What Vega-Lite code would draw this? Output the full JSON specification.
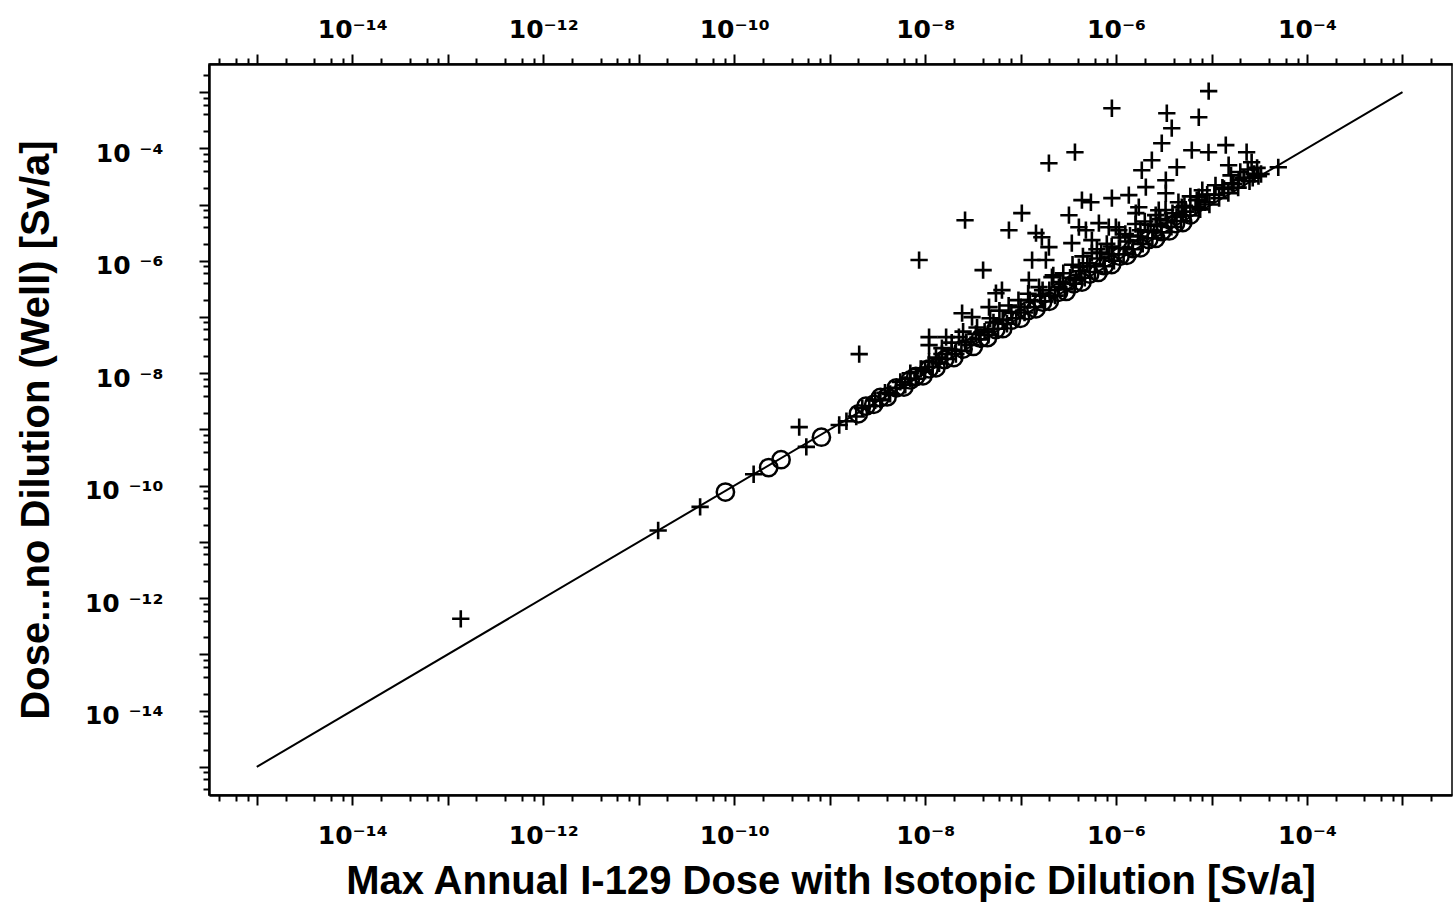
{
  "$schema": "https://vega.github.io/schema/vega-lite/v6.json",
  "autosize": {"type": "none"},
  "width": 1243,
  "height": 731,
  "padding": {"left": 209, "top": 64, "right": 2, "bottom": 113},
  "background": "white",
  "config": {
    "view": {"stroke": "black", "strokeWidth": 1.5},
    "font": "Liberation Sans"
  },
  "datasets": {
    "diag": [{"x": 1e-15, "y": 1e-15}, {"x": 1e-3, "y": 1e-3}],
    "plus": [
      {"x": 1.37e-13, "y": 4.3e-13}, {"x": 1.6e-11, "y": 1.6e-11}, {"x": 4.4e-11, "y": 4.2e-11}, {"x": 1.6e-10, "y": 1.6e-10},
      {"x": 4.8e-10, "y": 1.1e-9}, {"x": 5.7e-10, "y": 4.9e-10}, {"x": 1.26e-9, "y": 1.2e-9}, {"x": 1.5e-9, "y": 1.4e-9},
      {"x": 1.9e-9, "y": 1.7e-9}, {"x": 2.04e-9, "y": 2.19e-8}, {"x": 8.65e-9, "y": 1.03e-6}, {"x": 2.62e-8, "y": 5.27e-6},
      {"x": 4.05e-8, "y": 6.81e-7}, {"x": 7.55e-8, "y": 3.5e-6}, {"x": 1.03e-7, "y": 7.03e-6}, {"x": 1.98e-7, "y": 5.44e-5},
      {"x": 3.71e-7, "y": 8.53e-5}, {"x": 9.04e-7, "y": 5.16e-4}, {"x": 3.4e-6, "y": 4.21e-4}, {"x": 3.83e-6, "y": 2.28e-4},
      {"x": 3.01e-6, "y": 1.23e-4}, {"x": 7.35e-6, "y": 3.57e-4}, {"x": 9.33e-6, "y": 1.04e-3}, {"x": 2.37e-6, "y": 6.15e-5},
      {"x": 4.33e-6, "y": 4.61e-5}, {"x": 1.86e-6, "y": 4.08e-5}, {"x": 3.32e-6, "y": 2.71e-5}, {"x": 6.21e-6, "y": 9.27e-5},
      {"x": 9.3e-6, "y": 8.5e-5}, {"x": 1.41e-5, "y": 1.14e-4}, {"x": 2.33e-5, "y": 8.53e-5}, {"x": 2.63e-5, "y": 5.66e-5},
      {"x": 1.51e-5, "y": 5.0e-5}, {"x": 1.92e-5, "y": 2.71e-5}, {"x": 4.39e-7, "y": 1.2e-5}, {"x": 5.45e-7, "y": 1.1e-5},
      {"x": 9.04e-7, "y": 1.3e-5}, {"x": 1.36e-6, "y": 1.47e-5}, {"x": 3.21e-7, "y": 6.47e-6}, {"x": 4.08e-7, "y": 3.96e-6},
      {"x": 1.67e-7, "y": 2.63e-6}, {"x": 1.98e-7, "y": 1.75e-6}, {"x": 3.32e-6, "y": 1.59e-5}, {"x": 7.35e-6, "y": 1.35e-5},
      {"x": 1.63e-5, "y": 2.4e-5}, {"x": 1.73e-6, "y": 8.97e-6}, {"x": 6.61e-7, "y": 4.67e-6}, {"x": 9.95e-7, "y": 3.96e-6},
      {"x": 5.58e-7, "y": 2.33e-6}, {"x": 2.8e-6, "y": 7.94e-6}, {"x": 4.88e-6, "y": 8.97e-6}, {"x": 1.45e-7, "y": 3.1e-6},
      {"x": 1.32e-7, "y": 1.03e-6}, {"x": 1.84e-7, "y": 1.03e-6}, {"x": 1.22e-7, "y": 4.53e-7}, {"x": 6.38e-8, "y": 3.01e-7},
      {"x": 5.52e-8, "y": 2.65e-7}, {"x": 2.44e-8, "y": 1.17e-7}, {"x": 3.1e-8, "y": 9.95e-8}, {"x": 4.67e-8, "y": 1.5e-7},
      {"x": 1.1e-8, "y": 4.39e-8}, {"x": 1.66e-8, "y": 4.39e-8}, {"x": 2.26e-8, "y": 4.39e-8}, {"x": 1.1e-8, "y": 3.16e-8},
      {"x": 3.44e-7, "y": 2.06e-6}, {"x": 4.83e-7, "y": 3.5e-6}, {"x": 8.39e-7, "y": 3.96e-6}, {"x": 1.07e-6, "y": 3.5e-6},
      {"x": 1.61e-6, "y": 7.03e-6}, {"x": 5.58e-7, "y": 1.37e-6}, {"x": 2.13e-7, "y": 5.12e-7}, {"x": 2.52e-7, "y": 3.4e-7},
      {"x": 1.56e-7, "y": 3.4e-7}, {"x": 3.79e-7, "y": 4.53e-7}, {"x": 4.08e-7, "y": 7.71e-7}, {"x": 2.05e-6, "y": 2.04e-5},
      {"x": 2.17e-5, "y": 2.94e-5}, {"x": 5.0e-5, "y": 4.6e-5},
      {"x": 2.2e-9, "y": 2.4e-9}, {"x": 2.6e-9, "y": 2.6e-9}, {"x": 3.0e-9, "y": 3.3e-9}, {"x": 3.4e-9, "y": 3.4e-9},
      {"x": 3.8e-9, "y": 4.5e-9}, {"x": 4.3e-9, "y": 4.3e-9}, {"x": 5.0e-9, "y": 5.5e-9}, {"x": 5.5e-9, "y": 7.0e-9},
      {"x": 6.2e-9, "y": 6.2e-9}, {"x": 7.0e-9, "y": 8.0e-9}, {"x": 8.0e-9, "y": 8.0e-9}, {"x": 9.0e-9, "y": 1.2e-8},
      {"x": 1.0e-8, "y": 1.1e-8}, {"x": 1.1e-8, "y": 1.6e-8}, {"x": 1.2e-8, "y": 1.3e-8}, {"x": 1.4e-8, "y": 1.5e-8},
      {"x": 1.5e-8, "y": 2.2e-8}, {"x": 1.7e-8, "y": 1.8e-8}, {"x": 1.9e-8, "y": 2.6e-8}, {"x": 2.1e-8, "y": 2.2e-8},
      {"x": 2.4e-8, "y": 2.5e-8}, {"x": 2.7e-8, "y": 3.6e-8}, {"x": 3.0e-8, "y": 3.2e-8}, {"x": 3.4e-8, "y": 5.0e-8},
      {"x": 3.8e-8, "y": 4.0e-8}, {"x": 4.2e-8, "y": 5.5e-8}, {"x": 4.6e-8, "y": 4.8e-8}, {"x": 5.2e-8, "y": 8.0e-8},
      {"x": 5.8e-8, "y": 6.2e-8}, {"x": 6.5e-8, "y": 9.0e-8}, {"x": 7.2e-8, "y": 7.6e-8}, {"x": 8.0e-8, "y": 1.2e-7},
      {"x": 9.0e-8, "y": 9.5e-8}, {"x": 1.0e-7, "y": 1.5e-7}, {"x": 1.1e-7, "y": 1.2e-7}, {"x": 1.25e-7, "y": 2.0e-7},
      {"x": 1.4e-7, "y": 1.5e-7}, {"x": 1.6e-7, "y": 2.4e-7}, {"x": 1.8e-7, "y": 1.9e-7}, {"x": 2.0e-7, "y": 3.0e-7},
      {"x": 2.3e-7, "y": 2.4e-7}, {"x": 2.6e-7, "y": 4.2e-7}, {"x": 2.9e-7, "y": 3.1e-7}, {"x": 3.3e-7, "y": 5.0e-7},
      {"x": 3.7e-7, "y": 3.9e-7}, {"x": 4.2e-7, "y": 6.5e-7}, {"x": 4.7e-7, "y": 5.0e-7}, {"x": 5.3e-7, "y": 8.0e-7},
      {"x": 6.0e-7, "y": 6.3e-7}, {"x": 6.8e-7, "y": 1.1e-6}, {"x": 7.6e-7, "y": 8.0e-7}, {"x": 8.5e-7, "y": 1.3e-6},
      {"x": 9.5e-7, "y": 1.0e-6}, {"x": 1.07e-6, "y": 1.7e-6}, {"x": 1.2e-6, "y": 1.3e-6}, {"x": 1.35e-6, "y": 2.2e-6},
      {"x": 1.5e-6, "y": 1.6e-6}, {"x": 1.7e-6, "y": 2.7e-6}, {"x": 1.9e-6, "y": 2.0e-6}, {"x": 2.15e-6, "y": 3.3e-6},
      {"x": 2.4e-6, "y": 2.5e-6}, {"x": 2.7e-6, "y": 4.2e-6}, {"x": 3.0e-6, "y": 3.2e-6}, {"x": 3.4e-6, "y": 5.2e-6},
      {"x": 3.8e-6, "y": 4.0e-6}, {"x": 4.3e-6, "y": 6.0e-6}, {"x": 4.8e-6, "y": 5.1e-6}, {"x": 5.4e-6, "y": 7.5e-6},
      {"x": 6.0e-6, "y": 6.4e-6}, {"x": 6.8e-6, "y": 9.0e-6}, {"x": 7.6e-6, "y": 8.2e-6}, {"x": 8.5e-6, "y": 1.1e-5},
      {"x": 9.5e-6, "y": 1.0e-5}, {"x": 1.07e-5, "y": 1.5e-5}, {"x": 1.2e-5, "y": 1.3e-5}, {"x": 1.35e-5, "y": 1.9e-5},
      {"x": 1.5e-5, "y": 1.6e-5}, {"x": 1.7e-5, "y": 2.3e-5}, {"x": 1.9e-5, "y": 2.0e-5}, {"x": 2.2e-5, "y": 3.0e-5},
      {"x": 2.5e-5, "y": 2.6e-5}, {"x": 2.8e-5, "y": 3.5e-5}, {"x": 3.1e-5, "y": 3.2e-5},
      {"x": 1.2e-7, "y": 2.6e-7}, {"x": 1.7e-7, "y": 3.0e-7}, {"x": 2.2e-7, "y": 5.5e-7}, {"x": 2.8e-7, "y": 6.0e-7},
      {"x": 3.5e-7, "y": 8.5e-7}, {"x": 4.5e-7, "y": 1.2e-6}, {"x": 5.0e-7, "y": 9.0e-7}, {"x": 6.3e-7, "y": 1.6e-6},
      {"x": 7.0e-7, "y": 1.4e-6}, {"x": 8.0e-7, "y": 2.0e-6}, {"x": 9.0e-7, "y": 1.8e-6}, {"x": 1.1e-6, "y": 2.6e-6},
      {"x": 1.25e-6, "y": 3.0e-6}, {"x": 1.4e-6, "y": 2.8e-6}, {"x": 1.6e-6, "y": 4.5e-6}, {"x": 1.8e-6, "y": 3.5e-6},
      {"x": 2.0e-6, "y": 5.0e-6}, {"x": 2.3e-6, "y": 4.4e-6}, {"x": 2.6e-6, "y": 6.5e-6}, {"x": 2.9e-6, "y": 5.5e-6},
      {"x": 3.3e-6, "y": 8.0e-6}, {"x": 3.9e-6, "y": 7.0e-6}, {"x": 4.5e-6, "y": 1.1e-5}, {"x": 5.2e-6, "y": 9.5e-6},
      {"x": 6.0e-6, "y": 1.4e-5}, {"x": 7.0e-6, "y": 1.2e-5}, {"x": 8.0e-6, "y": 1.8e-5}, {"x": 9.0e-6, "y": 1.5e-5},
      {"x": 1.1e-5, "y": 2.2e-5}, {"x": 1.3e-5, "y": 2.0e-5}, {"x": 1.6e-5, "y": 3.3e-5}, {"x": 2.0e-5, "y": 3.8e-5},
      {"x": 2.4e-5, "y": 4.2e-5}, {"x": 3.0e-5, "y": 4.5e-5}, {"x": 2.7e-5, "y": 3.0e-5}, {"x": 3.3e-5, "y": 3.5e-5},
      {"x": 2.5e-8, "y": 5.5e-8}, {"x": 3.5e-8, "y": 6.5e-8}, {"x": 4.8e-8, "y": 9.5e-8}, {"x": 6.0e-8, "y": 1.3e-7},
      {"x": 7.5e-8, "y": 1.6e-7}, {"x": 9.5e-8, "y": 2.0e-7}, {"x": 1.5e-8, "y": 2.8e-8}, {"x": 1.9e-8, "y": 3.5e-8},
      {"x": 7.0e-9, "y": 1.0e-8}, {"x": 1.3e-8, "y": 1.9e-8}
    ],
    "circle": [
      {"x": 8.1e-11, "y": 7.7e-11}, {"x": 2.3e-10, "y": 2.1e-10}, {"x": 3.1e-10, "y": 2.9e-10}, {"x": 8.2e-10, "y": 7.3e-10},
      {"x": 2.0e-9, "y": 1.9e-9}, {"x": 2.9e-9, "y": 2.8e-9}, {"x": 4.0e-9, "y": 3.8e-9}, {"x": 6.0e-9, "y": 5.7e-9},
      {"x": 9.5e-9, "y": 9.0e-9}, {"x": 1.3e-8, "y": 1.25e-8}, {"x": 2.0e-8, "y": 1.9e-8}, {"x": 3.2e-8, "y": 3.0e-8},
      {"x": 4.5e-8, "y": 4.3e-8}, {"x": 6.5e-8, "y": 6.2e-8}, {"x": 1.0e-7, "y": 9.5e-8}, {"x": 1.45e-7, "y": 1.4e-7},
      {"x": 2.0e-7, "y": 1.9e-7}, {"x": 3.0e-7, "y": 2.85e-7}, {"x": 4.4e-7, "y": 4.2e-7}, {"x": 6.5e-7, "y": 6.2e-7},
      {"x": 9.0e-7, "y": 8.6e-7}, {"x": 1.3e-6, "y": 1.25e-6}, {"x": 1.8e-6, "y": 1.7e-6}, {"x": 2.6e-6, "y": 2.5e-6},
      {"x": 3.6e-6, "y": 3.4e-6}, {"x": 5.0e-6, "y": 4.8e-6},
      {"x": 2.4e-9, "y": 2.6e-9}, {"x": 3.4e-9, "y": 3.7e-9}, {"x": 5.0e-9, "y": 5.5e-9}, {"x": 7.0e-9, "y": 7.6e-9},
      {"x": 8.0e-9, "y": 8.8e-9}, {"x": 1.1e-8, "y": 1.2e-8}, {"x": 1.6e-8, "y": 1.75e-8}, {"x": 2.5e-8, "y": 2.7e-8},
      {"x": 3.8e-8, "y": 4.2e-8}, {"x": 5.5e-8, "y": 6.0e-8}, {"x": 8.0e-8, "y": 8.8e-8}, {"x": 1.2e-7, "y": 1.3e-7},
      {"x": 1.7e-7, "y": 1.85e-7}, {"x": 2.5e-7, "y": 2.75e-7}, {"x": 3.6e-7, "y": 3.9e-7}, {"x": 5.3e-7, "y": 5.8e-7},
      {"x": 7.5e-7, "y": 8.2e-7}, {"x": 1.1e-6, "y": 1.2e-6}, {"x": 1.5e-6, "y": 1.65e-6}, {"x": 2.2e-6, "y": 2.4e-6},
      {"x": 3.0e-6, "y": 3.3e-6}, {"x": 4.2e-6, "y": 4.6e-6}, {"x": 6.0e-6, "y": 6.5e-6}
    ]
  },
  "resolve": {"axis": {"x": "independent", "y": "independent"}},
  "layer": [
    {
      "data": {"name": "diag"},
      "mark": {"type": "line", "color": "black", "strokeWidth": 2},
      "encoding": {
        "x": {
          "field": "x", "type": "quantitative",
          "scale": {"type": "log", "domain": [3.16e-16, 3.3e-3], "nice": false},
          "axis": {
            "orient": "bottom",
            "values": [4e-16, 6e-16, 8e-16, 1e-15, 2e-15, 4e-15, 6e-15, 8e-15, 1e-14, 2e-14, 4e-14, 6e-14, 8e-14, 1e-13, 2e-13, 4e-13, 6e-13, 8e-13, 1e-12, 2e-12, 4e-12, 6e-12, 8e-12, 1e-11, 2e-11, 4e-11, 6e-11, 8e-11, 1e-10, 2e-10, 4e-10, 6e-10, 8e-10, 1e-9, 2e-9, 4e-9, 6e-9, 8e-9, 1e-8, 2e-8, 4e-8, 6e-8, 8e-8, 1e-7, 2e-7, 4e-7, 6e-7, 8e-7, 1e-6, 2e-6, 4e-6, 6e-6, 8e-6, 1e-5, 2e-5, 4e-5, 6e-5, 8e-5, 1e-4, 2e-4, 4e-4, 6e-4, 8e-4, 1e-3, 2e-3],
            "labelExpr": "abs(log(datum.value)/LN10 - round(log(datum.value)/LN10)) > 0.01 ? '' : round(log(datum.value)/LN10) == -14 ? '10⁻¹⁴' : round(log(datum.value)/LN10) == -12 ? '10⁻¹²' : round(log(datum.value)/LN10) == -10 ? '10⁻¹⁰' : round(log(datum.value)/LN10) == -8 ? '10⁻⁸' : round(log(datum.value)/LN10) == -6 ? '10⁻⁶' : round(log(datum.value)/LN10) == -4 ? '10⁻⁴' : ''",
            "labelFont": "DejaVu Sans", "labelFontSize": 25, "labelFontWeight": "bold", "labelColor": "black",
            "labelPadding": 18, "labelOverlap": false, "labelFlush": false, "labelBound": false,
            "tickColor": "black", "tickWidth": 2,
            "tickSize": {"condition": {"test": "abs(log(datum.value)/LN10 - round(log(datum.value)/LN10)) < 0.01", "value": 10}, "value": 6},
            "domainColor": "black", "domainWidth": 2.5, "grid": false,
            "title": "Max Annual I-129 Dose with Isotopic Dilution [Sv/a]",
            "titleFont": "Liberation Sans", "titleFontSize": 40, "titleFontWeight": "bold", "titleColor": "black", "titlePadding": 13
          }
        },
        "y": {
          "field": "y", "type": "quantitative",
          "scale": {"type": "log", "domain": [3.16e-16, 3.16e-3], "nice": false},
          "axis": {
            "orient": "left",
            "values": [4e-16, 6e-16, 8e-16, 1e-15, 2e-15, 4e-15, 6e-15, 8e-15, 1e-14, 2e-14, 4e-14, 6e-14, 8e-14, 1e-13, 2e-13, 4e-13, 6e-13, 8e-13, 1e-12, 2e-12, 4e-12, 6e-12, 8e-12, 1e-11, 2e-11, 4e-11, 6e-11, 8e-11, 1e-10, 2e-10, 4e-10, 6e-10, 8e-10, 1e-9, 2e-9, 4e-9, 6e-9, 8e-9, 1e-8, 2e-8, 4e-8, 6e-8, 8e-8, 1e-7, 2e-7, 4e-7, 6e-7, 8e-7, 1e-6, 2e-6, 4e-6, 6e-6, 8e-6, 1e-5, 2e-5, 4e-5, 6e-5, 8e-5, 1e-4, 2e-4, 4e-4, 6e-4, 8e-4, 1e-3, 2e-3],
            "labelExpr": "abs(log(datum.value)/LN10 - round(log(datum.value)/LN10)) > 0.01 ? '' : round(log(datum.value)/LN10) == -14 ? '10 ⁻¹⁴' : round(log(datum.value)/LN10) == -12 ? '10 ⁻¹²' : round(log(datum.value)/LN10) == -10 ? '10 ⁻¹⁰' : round(log(datum.value)/LN10) == -8 ? '10 ⁻⁸' : round(log(datum.value)/LN10) == -6 ? '10 ⁻⁶' : round(log(datum.value)/LN10) == -4 ? '10 ⁻⁴' : ''",
            "labelFont": "DejaVu Sans", "labelFontSize": 25, "labelFontWeight": "bold", "labelColor": "black",
            "labelPadding": 36, "labelOverlap": false, "labelFlush": false, "labelBound": false,
            "labelOffset": 5,
            "tickColor": "black", "tickWidth": 2,
            "tickSize": {"condition": {"test": "abs(log(datum.value)/LN10 - round(log(datum.value)/LN10)) < 0.01", "value": 10}, "value": 6},
            "domainColor": "black", "domainWidth": 2.5, "grid": false,
            "title": "Dose...no Dilution (Well) [Sv/a]",
            "titleFont": "Liberation Sans", "titleFontSize": 40, "titleFontWeight": "bold", "titleColor": "black", "titlePadding": 28
          }
        }
      }
    },
    {
      "data": {"name": "plus"},
      "mark": {"type": "point", "shape": "M-1,0H1M0,-1V1", "filled": false, "stroke": "black", "strokeWidth": 2.6, "size": 300, "opacity": 1},
      "encoding": {
        "x": {
          "field": "x", "type": "quantitative",
          "scale": {"type": "log", "domain": [3.16e-16, 3.3e-3], "nice": false},
          "axis": {
            "orient": "top",
            "values": [4e-16, 6e-16, 8e-16, 1e-15, 2e-15, 4e-15, 6e-15, 8e-15, 1e-14, 2e-14, 4e-14, 6e-14, 8e-14, 1e-13, 2e-13, 4e-13, 6e-13, 8e-13, 1e-12, 2e-12, 4e-12, 6e-12, 8e-12, 1e-11, 2e-11, 4e-11, 6e-11, 8e-11, 1e-10, 2e-10, 4e-10, 6e-10, 8e-10, 1e-9, 2e-9, 4e-9, 6e-9, 8e-9, 1e-8, 2e-8, 4e-8, 6e-8, 8e-8, 1e-7, 2e-7, 4e-7, 6e-7, 8e-7, 1e-6, 2e-6, 4e-6, 6e-6, 8e-6, 1e-5, 2e-5, 4e-5, 6e-5, 8e-5, 1e-4, 2e-4, 4e-4, 6e-4, 8e-4, 1e-3, 2e-3],
            "labelExpr": "abs(log(datum.value)/LN10 - round(log(datum.value)/LN10)) > 0.01 ? '' : round(log(datum.value)/LN10) == -14 ? '10⁻¹⁴' : round(log(datum.value)/LN10) == -12 ? '10⁻¹²' : round(log(datum.value)/LN10) == -10 ? '10⁻¹⁰' : round(log(datum.value)/LN10) == -8 ? '10⁻⁸' : round(log(datum.value)/LN10) == -6 ? '10⁻⁶' : round(log(datum.value)/LN10) == -4 ? '10⁻⁴' : ''",
            "labelFont": "DejaVu Sans", "labelFontSize": 25, "labelFontWeight": "bold", "labelColor": "black",
            "labelPadding": 12, "labelOverlap": false, "labelFlush": false, "labelBound": false,
            "tickColor": "black", "tickWidth": 2,
            "tickSize": {"condition": {"test": "abs(log(datum.value)/LN10 - round(log(datum.value)/LN10)) < 0.01", "value": 10}, "value": 6},
            "domainColor": "black", "domainWidth": 2.5, "grid": false,
            "title": null
          }
        },
        "y": {
          "field": "y", "type": "quantitative",
          "scale": {"type": "log", "domain": [3.16e-16, 3.16e-3], "nice": false},
          "axis": null
        }
      }
    },
    {
      "data": {"name": "circle"},
      "mark": {"type": "point", "shape": "circle", "filled": false, "stroke": "black", "strokeWidth": 2.5, "size": 300, "opacity": 1},
      "encoding": {
        "x": {
          "field": "x", "type": "quantitative",
          "scale": {"type": "log", "domain": [3.16e-16, 3.3e-3], "nice": false},
          "axis": null
        },
        "y": {
          "field": "y", "type": "quantitative",
          "scale": {"type": "log", "domain": [3.16e-16, 3.16e-3], "nice": false},
          "axis": null
        }
      }
    }
  ]
}
